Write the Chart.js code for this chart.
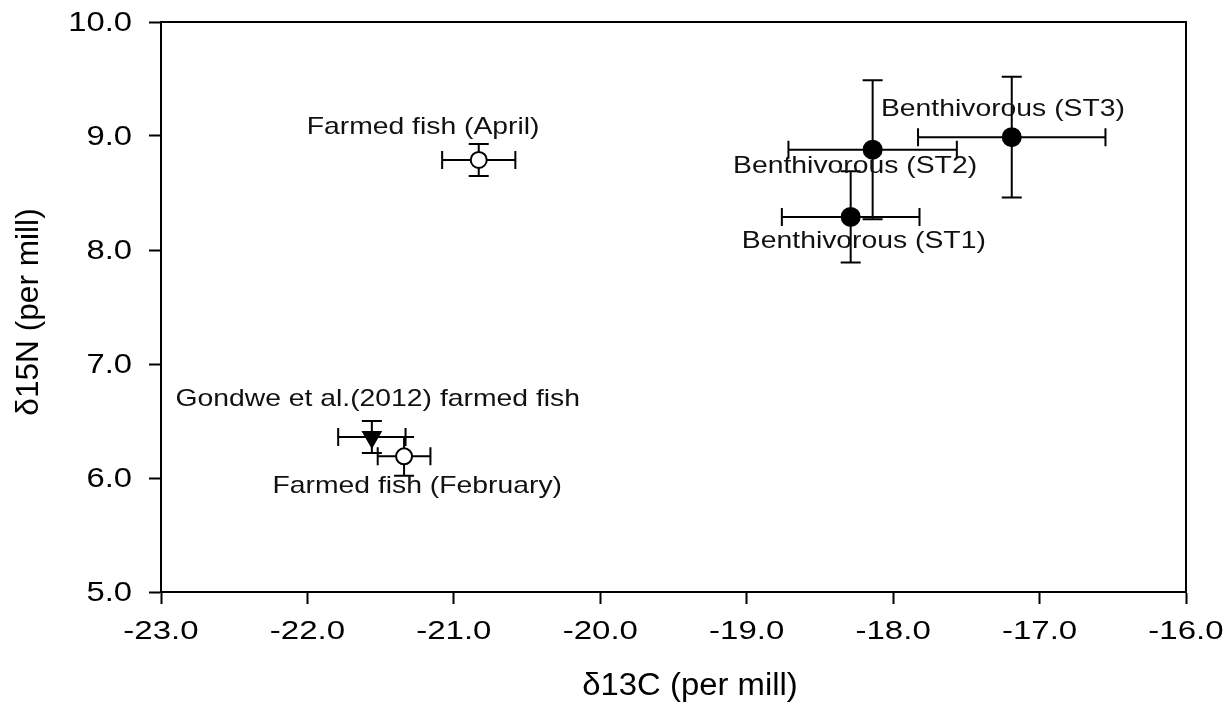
<!DOCTYPE html>
<html>
<head>
<meta charset="utf-8">
<script src="https://cdn.jsdelivr.net/npm/chart.js@4.4.0/dist/chart.umd.min.js"></script>
<style>
  html, body { margin: 0; padding: 0; background: #fff; }
  #wrap { width: 1232px; height: 708px; }
</style>
</head>
<body>
<div id="wrap"><canvas id="c" width="1232" height="708"></canvas></div>
<script>
// ---- data ----
const groupNames = ['Farmed fish (April)', 'Farmed fish (February)', 'Gondwe et al.(2012) farmed fish', 'Benthivorous (ST1)', 'Benthivorous (ST2)', 'Benthivorous (ST3)'];
const d13C = [-20.83, -21.34, -21.56, -18.29, -18.14, -17.19];
const d15N = [8.79, 6.19, 6.36, 8.29, 8.88, 8.99];
const d13CErr = [0.25, 0.18, 0.23, 0.47, 0.575, 0.64];
const d15NErr = [0.14, 0.17, 0.14, 0.40, 0.61, 0.53];
// label anchor positions (data units, text centre)
const labelX = [-21.21, -21.25, -21.52, -18.2, -18.26, -17.25];
const labelY = [9.08, 5.93, 6.69, 8.08, 8.73, 9.23];
const xTicks = [-23, -22, -21, -20, -19, -18, -17, -16];
const yTicks = [5, 6, 7, 8, 9, 10];
const xTitle = '\u03B413C (per mill)';
const yTitle = '\u03B415N (per mill)';
// marker styles per group
const markerKind = ['open', 'open', 'tri', 'filled', 'filled', 'filled'];

const FONT = '"Liberation Sans", Arial, sans-serif';

const points = d13C.map((x, i) => ({ x: x, y: d15N[i] }));

function stretchedText(ctx, text, px, py, sx, rot) {
  ctx.save();
  ctx.translate(px, py);
  if (rot) ctx.rotate(rot);
  ctx.scale(sx, 1);
  ctx.fillText(text, 0, 0);
  ctx.restore();
}

const errorBars = {
  id: 'errorBars',
  beforeDatasetsDraw(chart) {
    const { ctx, scales: { x, y } } = chart;
    ctx.save();
    ctx.strokeStyle = '#000';
    ctx.lineWidth = 2;
    const cap = 10;
    d13C.forEach((cx, i) => {
      const px = x.getPixelForValue(cx), py = y.getPixelForValue(d15N[i]);
      const xl = x.getPixelForValue(cx - d13CErr[i]), xr = x.getPixelForValue(cx + d13CErr[i]);
      const yt = y.getPixelForValue(d15N[i] + d15NErr[i]), yb = y.getPixelForValue(d15N[i] - d15NErr[i]);
      ctx.beginPath();
      ctx.moveTo(xl, py); ctx.lineTo(xr, py);
      ctx.moveTo(xl, py - 9); ctx.lineTo(xl, py + 9);
      ctx.moveTo(xr, py - 9); ctx.lineTo(xr, py + 9);
      ctx.moveTo(px, yt); ctx.lineTo(px, yb);
      ctx.moveTo(px - cap, yt); ctx.lineTo(px + cap, yt);
      ctx.moveTo(px - cap, yb); ctx.lineTo(px + cap, yb);
      ctx.stroke();
    });
    ctx.restore();
  }
};

const frameAndLabels = {
  id: 'frameAndLabels',
  afterDatasetsDraw(chart) {
    const { ctx, chartArea: a, scales: { x, y } } = chart;
    ctx.save();
    ctx.strokeStyle = '#000';
    ctx.lineWidth = 2;
    ctx.beginPath();
    ctx.moveTo(a.left, a.top); ctx.lineTo(a.right, a.top); ctx.lineTo(a.right, a.bottom);
    ctx.stroke();
    // point annotations
    ctx.fillStyle = '#111';
    ctx.font = '24px ' + FONT;
    ctx.textAlign = 'center';
    ctx.textBaseline = 'middle';
    groupNames.forEach((t, i) => {
      stretchedText(ctx, t, x.getPixelForValue(labelX[i]), y.getPixelForValue(labelY[i]), 1.18);
    });
    // tick labels
    ctx.fillStyle = '#000';
    ctx.font = '26px ' + FONT;
    ctx.textAlign = 'center';
    xTicks.forEach(v => {
      stretchedText(ctx, v.toFixed(1), x.getPixelForValue(v), a.bottom + 40, 1.27);
    });
    ctx.font = '28px ' + FONT;
    ctx.textAlign = 'right';
    yTicks.forEach(v => {
      stretchedText(ctx, v.toFixed(1), a.left - 29, y.getPixelForValue(v) + 1, 1.17);
    });
    // axis titles
    ctx.textAlign = 'center';
    ctx.font = '31px ' + FONT;
    stretchedText(ctx, xTitle, 690, 686, 1.06);
    stretchedText(ctx, yTitle, 29, 312, 1.02, -Math.PI / 2);
    ctx.restore();
  }
};

new Chart(document.getElementById('c'), {
  type: 'scatter',
  data: {
    datasets: [{
      data: points,
      pointStyle: markerKind.map(k => k === 'tri' ? 'triangle' : 'circle'),
      rotation: markerKind.map(k => k === 'tri' ? 180 : 0),
      backgroundColor: markerKind.map(k => k === 'open' ? '#fff' : '#000'),
      borderColor: '#000',
      borderWidth: 2,
      pointRadius: markerKind.map(k => k === 'open' ? 8 : (k === 'tri' ? 10 : 9)),
      pointHoverRadius: markerKind.map(k => k === 'open' ? 8 : (k === 'tri' ? 10 : 9))
    }]
  },
  options: {
    responsive: false,
    animation: false,
    events: [],
    layout: { padding: { top: 22, right: 46, left: 0, bottom: 0 } },
    plugins: { legend: { display: false }, tooltip: { enabled: false } },
    scales: {
      x: {
        type: 'linear', min: -23, max: -16,
        afterFit(s) { s.height = 116; s.paddingLeft = 0; s.paddingRight = 0; },
        afterBuildTicks(s) { s.ticks = xTicks.map(v => ({ value: v })); },
        ticks: { display: false },
        grid: { display: true, drawOnChartArea: false, drawTicks: true, tickLength: 12, tickColor: '#000', tickWidth: 2 },
        border: { display: true, color: '#000', width: 2 },
        title: { display: false }
      },
      y: {
        type: 'linear', min: 5, max: 10,
        afterFit(s) { s.width = 161; s.paddingTop = 0; s.paddingBottom = 0; },
        afterBuildTicks(s) { s.ticks = yTicks.map(v => ({ value: v })); },
        ticks: { display: false },
        grid: { display: true, drawOnChartArea: false, drawTicks: true, tickLength: 12, tickColor: '#000', tickWidth: 2 },
        border: { display: true, color: '#000', width: 2 },
        title: { display: false }
      }
    }
  },
  plugins: [errorBars, frameAndLabels]
});
</script>
</body>
</html>
